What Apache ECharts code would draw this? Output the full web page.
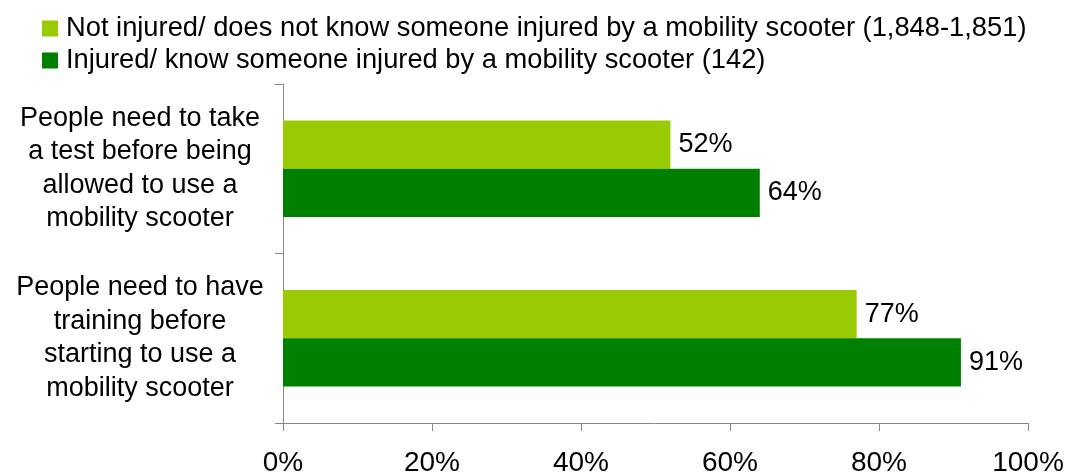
<!DOCTYPE html>
<html>
<head>
<meta charset="utf-8">
<script src="https://cdn.jsdelivr.net/npm/echarts@6/dist/echarts.min.js"></script>
<style>html,body{margin:0;padding:0;background:#fff;}#c{width:1068px;height:472px;}</style>
</head>
<body>
<div id="c"></div>
<script>
const categories = [
  "People need to take\na test before being\nallowed to use a\nmobility scooter",
  "People need to have\ntraining before\nstarting to use a\nmobility scooter"
];
const seriesNames = [
  "Not injured/ does not know someone injured by a mobility scooter (1,848-1,851)",
  "Injured/ know someone injured by a mobility scooter (142)"
];
const notInjured = [52, 77];
const injured = [64, 91];
const xTicks = [0, 20, 40, 60, 80, 100];

const FONT = "'Liberation Sans', Arial, sans-serif";
const chart = echarts.init(document.getElementById('c'), null, {renderer: 'canvas'});
const labelCfg = {
  show: true, position: 'right', distance: 8,
  formatter: p => p.value + '%',
  color: '#000', fontFamily: FONT, fontSize: 27
};
chart.setOption({
  animation: false,
  backgroundColor: '#fff',
  color: ['#99CC00', '#008000'],
  legend: {
    orient: 'vertical', left: 42, top: 15, padding: 0,
    itemWidth: 16, itemHeight: 16, itemGap: 5,
    icon: 'rect',
    textStyle: {fontFamily: FONT, fontSize: 27.3, lineHeight: 27, color: '#000', padding: [0, 0, 0, 3]},
    data: seriesNames
  },
  grid: {left: 283, right: 40, top: 84, bottom: 49, containLabel: false, outerBoundsMode: 'none'},
  xAxis: {
    type: 'value', min: 0, max: 100, interval: 20,
    axisLine: {show: true, lineStyle: {color: '#868686', width: 1}},
    axisTick: {show: true, length: 8, lineStyle: {color: '#868686'}},
    splitLine: {show: false},
    axisLabel: {formatter: v => xTicks.includes(v) ? v + '%' : '', fontFamily: FONT, fontSize: 28, color: '#000', margin: 26}
  },
  yAxis: {
    type: 'category', inverse: true, data: categories,
    axisLine: {show: true, lineStyle: {color: '#868686', width: 1}},
    axisTick: {show: true, length: 8, lineStyle: {color: '#868686'}},
    axisLabel: {fontFamily: FONT, fontSize: 27, color: '#000', align: 'center', margin: 143, lineHeight: 33.5}
  },
  series: [
    {name: seriesNames[0], type: 'bar', data: notInjured, barGap: '0%', barCategoryGap: '43%', label: labelCfg},
    {name: seriesNames[1], type: 'bar', data: injured, barGap: '0%', barCategoryGap: '43%', label: labelCfg}
  ]
});
</script>
</body>
</html>
